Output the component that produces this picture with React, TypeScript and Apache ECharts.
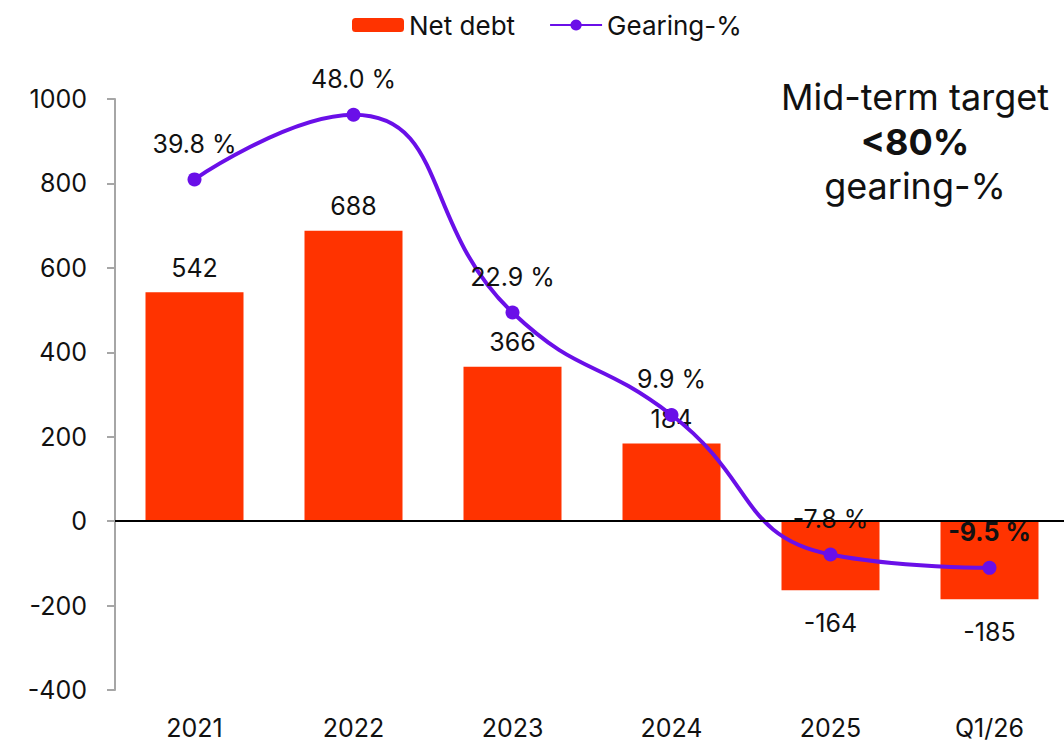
import React, { useEffect, useRef } from "react";
import * as echarts from "echarts";

const categories = ["2021", "2022", "2023", "2024", "2025", "Q1/26"];
const netDebt = [542, 688, 366, 184, -164, -185];
const gearing = [39.8, 48.0, 22.9, 9.9, -7.8, -9.5];
const yTicks = { min: -400, max: 1000, interval: 200 };
const gearingAxis = { min: -25, max: 50 };
const targetLines = ["Mid-term target", "<80%", "gearing-%"];

const FONT = "Inter, 'Noto Sans', sans-serif";

export default function App() {
  const ref = useRef<HTMLDivElement>(null);
  useEffect(() => {
    if (!ref.current) return;
    const chart = echarts.init(ref.current, undefined, { renderer: "svg" });
    chart.setOption({
      animation: false,
      textStyle: { fontFamily: FONT },
      legend: {
        top: 7,
        left: 347,
        itemWidth: 52,
        itemHeight: 14,
        itemGap: 34,
        textStyle: { fontSize: 26, color: "#111", fontFamily: FONT },
        data: ["Net debt", "Gearing-%"],
      },
      grid: { left: 115, top: 99, width: 954, height: 591 },
      xAxis: {
        type: "category",
        data: categories,
        axisLine: { show: false },
        axisTick: { show: false },
        axisLabel: { fontSize: 25, color: "#111", margin: 25, fontFamily: FONT },
      },
      yAxis: [
        {
          type: "value",
          min: yTicks.min,
          max: yTicks.max,
          interval: yTicks.interval,
          axisLine: { show: true, lineStyle: { color: "#a6a6a6", width: 2 } },
          axisTick: { show: true, length: 8, lineStyle: { color: "#a6a6a6", width: 2 } },
          splitLine: { show: false },
          axisLabel: {
            fontSize: 25,
            color: "#111",
            margin: 28,
            fontFamily: FONT,
            formatter: (v: number) => String(v),
          },
        },
        {
          type: "value",
          min: gearingAxis.min,
          max: gearingAxis.max,
          show: false,
          splitLine: { show: false },
        },
      ],
      series: [
        {
          name: "Net debt",
          type: "bar",
          data: netDebt.map((v) => ({
            value: v,
            label: v >= 0 ? { position: "top", distance: 12 } : { position: "bottom", distance: 20 },
          })),
          barWidth: 98,
          itemStyle: { color: "#FF3300" },
          label: {
            show: true,
            fontSize: 25,
            color: "#111",
            fontFamily: FONT,
          },
          markLine: {
            silent: true,
            symbol: "none",
            label: { show: false },
            lineStyle: { color: "#000", width: 2, type: "solid" },
            data: [{ yAxis: 0 }],
          },
          z: 2,
        },
        {
          name: "Gearing-%",
          type: "line",
          yAxisIndex: 1,
          data: gearing.map((v, i) => ({
            value: v,
            label: i === gearing.length - 1 ? { fontWeight: "bold" } : {},
          })),
          smooth: 0.5,
          symbol: "circle",
          symbolSize: 14,
          lineStyle: { color: "#6A0FE8", width: 4 },
          itemStyle: { color: "#6A0FE8" },
          label: {
            show: true,
            position: "top",
            distance: 16,
            fontSize: 25,
            color: "#111",
            fontFamily: FONT,
            formatter: (p: any) => `${p.value.toFixed(1)} %`,
          },
          z: 3,
        },
      ],
      graphic: targetLines.map((t, i) => ({
        type: "text",
        x: 915,
        y: 97 + i * 44.5,
        style: {
          text: t,
          fontSize: 36,
          fontWeight: i === 1 ? "bold" : "normal",
          fill: "#111",
          fontFamily: FONT,
          textAlign: "center",
          textVerticalAlign: "middle",
        },
      })),
    });
    return () => chart.dispose();
  }, []);
  return (
    <div style={{ position: "fixed", left: 0, top: 0, width: 1064, height: 741, overflow: "hidden", background: "#fff" }}>
      <div ref={ref} style={{ width: 1072, height: 741 }} />
    </div>
  );
}
